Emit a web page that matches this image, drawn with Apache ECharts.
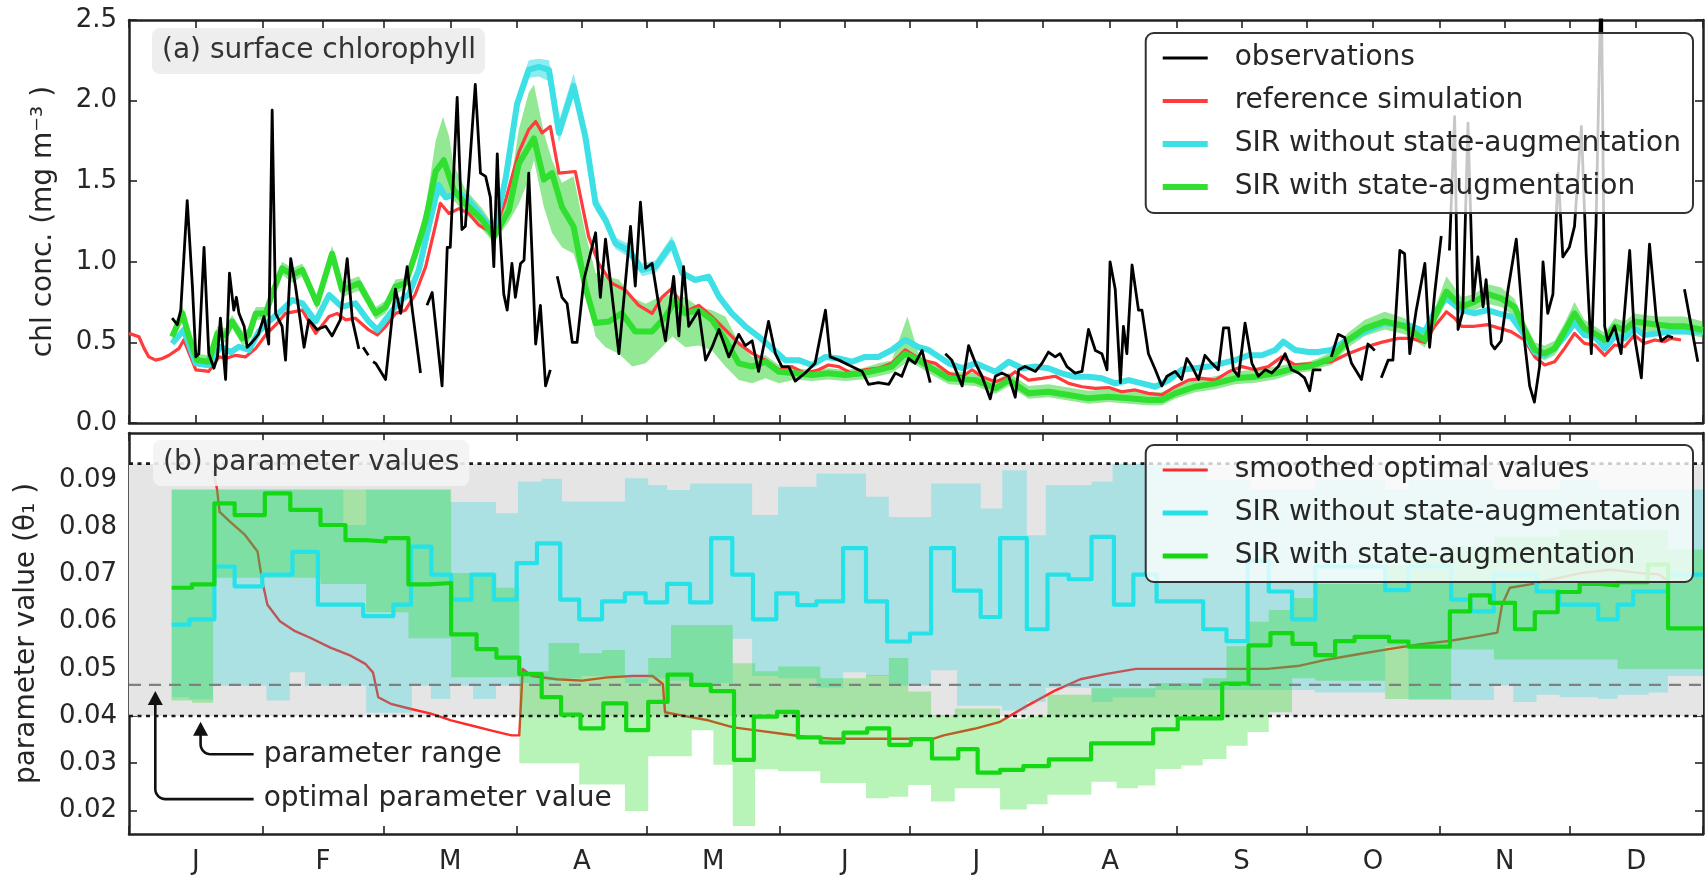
<!DOCTYPE html>
<html>
<head>
<meta charset="utf-8">
<script src="https://cdn.jsdelivr.net/npm/echarts@6/dist/echarts.min.js"></script>
<style>
html,body{margin:0;padding:0;background:#fff;}
#chart{width:1708px;height:875px;}
</style>
</head>
<body>
<div id="chart"></div>
<script>
// ---------- axes / ticks ----------
const monthLetters = ['J','F','M','A','M','J','J','A','S','O','N','D'];
const monthStarts = [0,31,59,90,120,151,181,212,243,273,304,334,365];
const monthMids = [15.5,45,74.5,105,135.5,166,196.5,227.5,258,288.5,319,349.5];
const chlTicks = [0,0.5,1.0,1.5,2.0,2.5];
const thetaTicks = [0.02,0.03,0.04,0.05,0.06,0.07,0.08,0.09];
const thetaLimits = [0.015, 0.1];
const paramRange = [0.040, 0.0935];
const optimalValue = 0.0466;

// ---------- (a) surface chlorophyll : [day, mg m-3] ----------
const observations = [
[10,0.65],[11.2,0.61],[12,0.70],[13.5,1.38],[14.7,0.85],[15.5,0.41],[16.2,0.43],[17.4,1.09],[18.5,0.43],[19.7,0.34],[20.5,0.41],[21.2,0.65],[22.4,0.27],[23.3,0.93],[24.3,0.70],[24.9,0.78],[25.5,0.68],[26.7,0.60],[27.4,0.47],[28.5,0.50],[30,0.55],
[31.3,0.66],[32.4,0.49],[33.2,1.94],[34,0.68],[35.5,0.60],[36.3,0.39],[37.5,1.02],[38.6,0.85],[40.6,0.47],[41.7,0.64],[43.6,0.58],[45.6,0.60],[47.1,0.54],[49,0.64],[50.6,1.02],[51.8,0.64],[53.3,0.46],[53.9,null],[54.3,0.47],[55.5,0.42],[56,null],[56.6,0.38],[57.2,0.37],[59.5,0.27],[61,0.65],[61.8,0.83],[63,0.68],[64.5,0.97],[65.7,0.70],[67.6,0.31],[68.3,null],
[69.1,0.73],[70.3,0.81],[72.6,0.23],[73.8,1.09],[74.5,1.09],[76.1,2.02],[77.2,1.20],[78,1.22],[80.3,2.10],[81.5,1.55],[82.7,1.53],[83.8,1.40],[84.6,0.97],[85.4,1.67],[86.1,1.16],[86.9,0.80],[87.7,0.70],[88.8,0.99],[89.6,0.78],[90.8,0.99],[91.6,1.01],[92.7,1.55],[94.3,0.49],[95.4,0.73],[96.6,0.23],[97.7,0.33],[98.5,null],
[99.3,0.91],[100.4,0.78],[101.6,0.74],[102.8,0.50],[103.9,0.50],[105.5,0.89],[108.2,1.18],[109.3,0.78],[110.5,1.14],[113.6,0.43],[116.3,1.22],[117.4,0.85],[118.6,1.37],[119.8,0.96],[121.3,0.99],[122.8,0.74],[124.4,0.51],[126.3,0.91],[127.5,0.54],[128.6,0.97],[129.8,0.60],[132.1,0.70],[133.7,0.39],[135.2,0.47],[136.8,0.58],[139.1,0.41],[141.4,0.55],[142.9,0.48],[144.5,0.51],[146,0.32],[148.3,0.63],[149.9,0.43],[151.4,0.35],[153,0.35],[154.5,0.26],[156.8,0.31],[159.1,0.37],[161.5,0.70],[162.6,0.41],[164.6,0.39],[166.9,0.36],[170,0.32],[171.5,0.24],[173.8,0.25],[176.2,0.24],[177.7,0.31],[179.2,0.29],[180.8,0.40],[182.3,0.37],[183.9,0.45],[185.8,0.25],[187,null],
[189.3,0.43],[190.8,0.39],[193.2,0.23],[194.7,0.48],[196.3,0.37],[197.8,0.29],[199.7,0.15],[200.9,0.29],[202.4,0.31],[204,0.29],[205.5,0.16],[206.3,0.33],[207.8,0.35],[210.2,0.32],[211.7,0.37],[213.2,0.44],[214.8,0.41],[215.9,0.43],[217.5,0.35],[219.4,0.31],[221,0.32],[222.5,0.58],[224.1,0.45],[225.6,0.43],[226.8,0.33],[227.5,1.00],[228.7,0.83],[229.9,0.25],[230.6,0.60],[231.4,0.43],[232.6,0.98],[234.1,0.70],[234.9,0.70],[236.4,0.43],[238,0.33],[239.5,0.23],[240.7,0.29],[242.6,0.32],[244.1,0.27],[245.3,0.40],[246.5,0.35],[248,0.27],[249.5,0.42],[251.1,0.37],[252.6,0.33],[253.8,0.59],[255,0.59],[256.1,0.33],[257.3,0.29],[258.8,0.62],[260.4,0.37],[261.9,0.29],[263.5,0.33],[265,0.31],[266.5,0.35],[268.1,0.43],[269.6,0.33],[271.2,0.31],[272.6,0.28],[273.8,0.20],[274.6,0.33],[276.5,0.33],[277.5,null],
[278.8,0.41],[280.4,0.55],[281.9,0.53],[283.5,0.37],[285.8,0.27],[287.3,0.49],[288.9,0.45],[289.6,null],[290.4,0.28],[292,0.39],[293.1,0.39],[294.7,1.07],[295.8,1.05],[297,0.43],[298.5,0.70],[300.5,0.99],[301.6,0.47],[302.8,0.81],[304.3,1.16],[305.2,null],
[306.2,1.07],[307.4,1.90],[308.2,0.58],[309.3,0.69],[310.5,1.86],[311.7,0.76],[312.8,1.03],[314,0.72],[314.7,0.89],[315.9,0.49],[316.7,0.46],[318.2,0.51],[319.8,0.83],[321.7,1.14],[323.6,0.51],[324.8,0.23],[325.9,0.13],[327.1,0.35],[327.9,1.00],[329,0.68],[330.2,0.80],[331.4,1.55],[332.5,1.03],[334,1.09],[335.2,1.22],[336.8,1.84],[337.9,1.05],[339.1,0.43],[340.2,1.24],[341.4,2.8],[342.2,0.60],[342.9,0.51],[344.5,0.60],[346,0.43],[348,1.07],[349.1,0.54],[350.7,0.28],[352.6,1.11],[354.2,0.64],[355.3,0.51],[356.9,0.54],[358,0.53],[359,null],[360.7,0.83],[363.8,0.38]
];

const referenceSimulation = [
[0,0.556],[2.3,0.535],[3.5,0.463],[4.6,0.41],[6.2,0.39],[7.7,0.40],[9.3,0.42],[11.6,0.463],[12.7,0.515],[14.3,0.41],[15.5,0.33],[18.5,0.32],[20.9,0.41],[22.4,0.40],[24.7,0.42],[27,0.41],[29.4,0.463],[31.7,0.546],[34,0.608],[36.3,0.68],[40.2,0.70],[43.3,0.556],[46.4,0.66],[48.3,0.68],[50.2,0.64],[52.5,0.65],[55.6,0.577],[57.6,0.546],[59.5,0.598],[61.8,0.68],[64.1,0.70],[66.4,0.80],[68.8,0.97],[71,1.218],[72.2,1.363],[74.2,1.30],[76.5,1.33],[78.8,1.30],[81.1,1.228],[84.6,1.176],[87.3,1.38],[90.4,1.68],[92.7,1.82],[94.3,1.87],[95.8,1.80],[97.7,1.84],[99.7,1.55],[103.5,1.56],[106.6,1.156],[108.9,0.99],[112,0.866],[115.1,0.825],[118.2,0.73],[121.3,0.68],[123.6,0.78],[125.9,0.835],[129,0.69],[132.1,0.73],[135.2,0.66],[138.3,0.577],[141.4,0.494],[144.5,0.432],[147.6,0.39],[150.7,0.33],[153.7,0.35],[156.8,0.308],[159.9,0.33],[162.2,0.36],[164.6,0.35],[167.6,0.308],[170.7,0.33],[173.8,0.34],[176.9,0.37],[180,0.453],[182,0.42],[183.9,0.39],[187,0.37],[190.1,0.308],[193.2,0.287],[195.5,0.33],[197.8,0.287],[200.9,0.256],[204,0.287],[205.5,0.318],[208.6,0.266],[211.7,0.277],[214.8,0.29],[217.9,0.246],[221,0.225],[224.1,0.215],[227.2,0.22],[230.2,0.194],[233.3,0.205],[236.4,0.184],[239.5,0.174],[242.6,0.225],[245.7,0.266],[248.8,0.277],[251.9,0.266],[255,0.318],[258.1,0.35],[261.1,0.33],[264.2,0.35],[267.3,0.41],[270.4,0.36],[275,0.37],[278.8,0.38],[282.7,0.43],[286.6,0.47],[290.4,0.50],[294.3,0.525],[297.4,0.525],[300.5,0.50],[302.8,0.60],[305.5,0.69],[307.4,0.65],[309,0.60],[312,0.60],[315.1,0.61],[317.5,0.59],[320.5,0.567],[323.6,0.515],[326,0.41],[328.3,0.36],[330.6,0.38],[332.9,0.463],[335.2,0.556],[337.5,0.494],[339.9,0.484],[342.2,0.42],[344.5,0.484],[346.8,0.473],[349.1,0.546],[351.4,0.494],[353.8,0.515],[356.1,0.505],[357.6,0.525],[359.9,0.515]
];

const sirNoAugChl = [
[10,0.494],[12.7,0.577],[15.5,0.37],[18.5,0.36],[21.2,0.473],[23.6,0.44],[25.5,0.473],[27.8,0.453],[30.1,0.567],[32.4,0.63],[35.5,0.70],[37.9,0.763],[40.2,0.742],[43.3,0.63],[46.4,0.794],[49.4,0.72],[52.5,0.742],[55.6,0.63],[57.6,0.577],[60.3,0.67],[62.6,0.753],[64.9,0.80],[67.2,0.95],[69.5,1.218],[71.8,1.476],[73.4,1.40],[76.5,1.425],[78.8,1.38],[81.9,1.28],[84.6,1.187],[87.3,1.51],[90,1.98],[92.7,2.19],[95,2.21],[97.4,2.19],[99.7,1.80],[103.1,2.09],[105.8,1.78],[108.2,1.36],[110.5,1.26],[112.8,1.115],[115.9,1.07],[119,0.95],[122.1,0.97],[125.9,1.115],[128.3,0.93],[131.3,0.887],[134.4,0.908],[136.8,0.784],[139.8,0.68],[142.9,0.60],[146,0.536],[149.1,0.463],[152.2,0.39],[155.3,0.39],[158.4,0.36],[161.5,0.41],[164.6,0.40],[167.6,0.38],[170.7,0.41],[173.8,0.41],[176.9,0.453],[180,0.515],[183.1,0.47],[185.4,0.453],[190.1,0.37],[193.2,0.34],[196.3,0.37],[200.9,0.318],[204,0.38],[207.1,0.34],[210.2,0.35],[213.2,0.34],[216.3,0.308],[219.4,0.287],[222.5,0.287],[225.6,0.277],[228.7,0.246],[231.8,0.266],[234.9,0.246],[238,0.225],[241.1,0.266],[244.1,0.33],[247.2,0.34],[250.3,0.35],[253.4,0.37],[256.5,0.39],[259.6,0.42],[262.7,0.42],[265.8,0.453],[267.7,0.505],[270.4,0.453],[273.5,0.44],[275.7,0.44],[278.8,0.453],[281.9,0.505],[286.6,0.567],[291.2,0.62],[294.3,0.61],[297.4,0.60],[300.5,0.567],[302.8,0.69],[305.5,0.773],[309,0.70],[312,0.68],[315.1,0.70],[317.5,0.68],[320.5,0.66],[323.6,0.546],[326,0.44],[328.3,0.42],[330.6,0.463],[332.9,0.536],[335.2,0.62],[337.5,0.546],[339.9,0.536],[342.2,0.463],[344.5,0.536],[346.8,0.525],[349.1,0.587],[351.4,0.546],[354.5,0.556],[357.6,0.567],[360.7,0.567],[365,0.567]
];

const sirAugChl = [
[10,0.536],[12.4,0.68],[13.9,0.536],[15.8,0.39],[18.5,0.38],[20.5,0.556],[22.4,0.546],[23.9,0.63],[26.3,0.525],[27.8,0.546],[29.4,0.68],[31.7,0.68],[33.2,0.80],[35.5,0.96],[37.9,0.918],[40.2,0.95],[43.6,0.742],[47.1,1.05],[49.4,0.825],[53.3,0.866],[57.2,0.68],[59.5,0.72],[61.8,0.846],[64.1,0.866],[66.4,1.05],[68.8,1.26],[71.1,1.56],[73,1.63],[75.3,1.445],[78,1.36],[81.9,1.26],[84.6,1.156],[88.1,1.32],[90.4,1.61],[93.9,1.766],[96.2,1.51],[98.1,1.55],[100.4,1.34],[103.1,1.218],[105.8,0.846],[108.2,0.62],[111.3,0.63],[114.3,0.68],[117.4,0.567],[121.3,0.567],[124.4,0.66],[126.7,0.763],[129,0.68],[132.1,0.70],[135.2,0.64],[138.3,0.515],[141.4,0.37],[144.5,0.35],[147.6,0.38],[150.7,0.318],[154.5,0.308],[158.4,0.298],[162.2,0.308],[166.1,0.298],[170,0.308],[173.8,0.33],[176.9,0.35],[180,0.43],[183.1,0.39],[185.4,0.35],[190.1,0.277],[196.3,0.266],[200.9,0.215],[204,0.266],[208.6,0.184],[213.2,0.194],[217.9,0.174],[222.5,0.153],[227.2,0.163],[231.8,0.153],[236.4,0.143],[239.5,0.143],[242.6,0.184],[247.2,0.225],[251.9,0.246],[256.5,0.277],[261.1,0.287],[265.8,0.308],[270.4,0.34],[273.5,0.35],[275.7,0.37],[278.8,0.40],[282.7,0.515],[286.6,0.587],[291.2,0.63],[295.8,0.60],[300.5,0.515],[302.8,0.66],[305.5,0.815],[309,0.72],[312,0.753],[315.1,0.80],[318.2,0.773],[321.3,0.72],[323.6,0.577],[326,0.453],[328.3,0.432],[330.6,0.463],[332.9,0.567],[335.2,0.68],[337.5,0.587],[339.9,0.556],[342.2,0.515],[344.5,0.60],[346.8,0.577],[349.1,0.63],[351.4,0.62],[354.5,0.61],[357.6,0.60],[360.7,0.60],[365,0.577]
];

// ensemble spread, [day, low, high]
const sirNoAugChlBand = [
[87.3,1.47,1.55],[90,1.93,2.04],[92.7,2.14,2.25],[95,2.15,2.26],[97.4,2.12,2.25],[99.7,1.74,1.87],[103.1,2.02,2.17],[105.8,1.72,1.85],[108.2,1.32,1.41],[110.5,1.22,1.30],[112.8,1.08,1.15],[115.9,1.03,1.11],[119,0.91,0.99],[122.1,0.93,1.01],[125.9,1.07,1.16],[128.3,0.89,0.97]
];
const sirAugChlBand = [
[10,0.50,0.57],[12.4,0.63,0.73],[13.9,0.50,0.58],[15.8,0.35,0.43],[18.5,0.34,0.42],[20.5,0.51,0.60],[22.4,0.50,0.59],[23.9,0.59,0.67],[26.3,0.48,0.57],[27.8,0.50,0.59],[29.4,0.64,0.72],[31.7,0.64,0.72],[33.2,0.76,0.84],[35.5,0.92,1.00],[37.9,0.87,0.96],[40.2,0.91,0.99],[43.6,0.70,0.78],[47.1,1.00,1.10],[49.4,0.78,0.87],[53.3,0.82,0.91],[57.2,0.64,0.72],[59.5,0.68,0.76],[61.8,0.80,0.89],
[64.1,0.83,0.90],[66.4,1.00,1.10],[68.8,1.18,1.34],[71.1,1.42,1.75],[72.8,1.40,1.90],[74.2,1.40,1.78],[75.3,1.38,1.60],[78,1.30,1.45],[81.9,1.20,1.33],[84.6,1.12,1.22],[88.1,1.25,1.42],[90.4,1.36,1.82],[92.7,1.51,2.05],[93.9,1.63,2.10],[96.2,1.34,1.80],[98.1,1.18,1.63],[100.4,1.09,1.49],[103.1,1.05,1.53],[105.8,0.825,1.18],[108.2,0.536,0.93],[110.5,0.47,0.91],[113.6,0.43,0.89],[116.7,0.35,0.78],[119.8,0.37,0.74],[122.8,0.45,0.78],[126,0.536,0.80],[129,0.47,0.78],[132.1,0.48,0.72],[135.2,0.45,0.70],[138.3,0.35,0.66],[141.4,0.267,0.50],[144.5,0.246,0.41],[147.6,0.277,0.42],[150.7,0.246,0.36],[154.5,0.27,0.34],[158.4,0.26,0.33],[162.2,0.27,0.34],[166.1,0.26,0.33],[170,0.27,0.34],[173.8,0.29,0.37],[176.9,0.31,0.39],[180.5,0.38,0.66],[183.1,0.35,0.43],
[185.4,0.31,0.38],[190.1,0.24,0.32],[196.3,0.23,0.31],[200.9,0.18,0.26],[204,0.23,0.31],[208.6,0.15,0.23],[213.2,0.16,0.24],[217.9,0.14,0.22],[222.5,0.12,0.20],[227.2,0.13,0.21],[231.8,0.12,0.20],[236.4,0.11,0.19],[239.5,0.11,0.19],[242.6,0.15,0.23],[247.2,0.19,0.27],[251.9,0.21,0.29],[256.5,0.24,0.32],[261.1,0.25,0.33],[265.8,0.27,0.35],
[270.4,0.31,0.37],[273.5,0.32,0.38],[275.7,0.34,0.40],[278.8,0.36,0.44],[282.7,0.47,0.56],[286.6,0.54,0.64],[291.2,0.58,0.69],[295.8,0.55,0.65],[300.5,0.47,0.56],[302.8,0.61,0.71],[305.5,0.75,0.91],[309,0.67,0.78],[312,0.70,0.80],[315.1,0.74,0.86],[318.2,0.72,0.84],[321.3,0.66,0.77],[323.6,0.53,0.63],[326,0.41,0.50],[328.3,0.39,0.48],[330.6,0.42,0.51],[332.9,0.52,0.62],[335.2,0.63,0.75],[337.5,0.54,0.64],[339.9,0.51,0.60],[342.2,0.47,0.56],[344.5,0.55,0.65],[346.8,0.53,0.63],[349.1,0.58,0.68],[351.4,0.57,0.67],[354.5,0.56,0.66],[357.6,0.55,0.66],[360.7,0.55,0.66],[365,0.53,0.63]
];

// ---------- (b) parameter values ----------
const smoothedOptimal = [
[19.5,0.092],[20.4,0.0882],[21,0.0833],[23.4,0.0812],[26.9,0.0784],[29.8,0.0749],[30.9,0.0686],[32.1,0.0636],[35,0.0601],[38.5,0.058],[42,0.0566],[46.7,0.0545],[51.4,0.0528],[54.9,0.051],[56.6,0.0492],[57.8,0.044],[60.7,0.0426],[65.4,0.0415],[70,0.0405],[74.7,0.0391],[79.4,0.038],[84.1,0.0369],[88.7,0.0359],[90.5,0.0359],[91.3,0.050],[93.4,0.0485],[99.2,0.0478],[105.1,0.0475],[110.9,0.0482],[116.8,0.0485],[121.4,0.0485],[123.8,0.0468],[124.3,0.0408],[128.4,0.0401],[134.3,0.0391],[140.1,0.0376],[145.9,0.0369],[151.8,0.0362],[157.6,0.0355],[163.5,0.0352],[175.1,0.0352],[186.6,0.0352],[188.9,0.0359],[196,0.0373],[201.8,0.0387],[207.7,0.0419],[214.7,0.0454],[220.6,0.0478],[226.4,0.0489],[233.5,0.050],[264,0.050],[271,0.0506],[278,0.052],[285,0.0531],[292.1,0.0542],[299.1,0.0552],[306.1,0.0559],[313.2,0.057],[317.3,0.0577],[318.4,0.0636],[320.2,0.0672],[324.9,0.0679],[329.6,0.0689],[336.6,0.0703],[343.6,0.071],[350.7,0.0703],[354.8,0.070],[356.5,0.0689]
];
// step values: [start day, value]
const sirNoAugTheta = [
[9.9,0.0594],[14,0.0605],[19.8,0.0717],[24.5,0.0675],[30.9,0.070],[37.9,0.0748],[43.8,0.0636],[54.3,0.0612],[61.3,0.0636],[65.4,0.0759],[70.1,0.070],[74.7,0.0647],[79.4,0.070],[84.6,0.0647],[89.9,0.0724],[94.6,0.0766],[100,0.0647],[104.4,0.0605],[109.7,0.0643],[115,0.066],[119.8,0.0641],[124.8,0.068],[130.1,0.0641],[135,0.0777],[139.9,0.070],[144.7,0.0605],[150.1,0.066],[155,0.0635],[159.4,0.0643],[165.6,0.0756],[170.9,0.0643],[175.8,0.0558],[181.1,0.0575],[186,0.0756],[191.3,0.0666],[197.5,0.061],[202,0.0777],[208.2,0.0584],[213,0.070],[217.9,0.069],[223.2,0.078],[228.4,0.0636],[232.9,0.070],[238.3,0.0643],[249.1,0.0584],[254.5,0.0559],[259.4,0.073],[264.3,0.0664],[269.7,0.0605],[275.1,0.0717],[291.3,0.0667],[296.7,0.0717],[306.6,0.0647],[311.1,0.0622],[316.5,0.070],[326.4,0.0664],[331.7,0.0636],[340.7,0.0605],[345.2,0.0636],[348.8,0.0664],[356.9,0.070],[365,0.070]
];
const sirAugTheta = [
[9.9,0.0672],[14.6,0.0679],[19.8,0.0851],[24.5,0.0826],[31.5,0.0872],[37.4,0.0837],[44.4,0.0805],[50.2,0.0773],[54.9,0.077],[59.5,0.0777],[64.8,0.0679],[69.5,0.0682],[74.7,0.0573],[80.6,0.0542],[85.2,0.0524],[90.5,0.0489],[95.7,0.0440],[100.2,0.0403],[104.7,0.0374],[110,0.0427],[115.3,0.037],[120.4,0.043],[124.9,0.0488],[130.4,0.0466],[134.9,0.0453],[140.3,0.0307],[144.9,0.0399],[150.3,0.0409],[155.1,0.0355],[160.4,0.0344],[165.7,0.0365],[171.2,0.0374],[176.3,0.0339],[181.3,0.0351],[186.2,0.031],[192.3,0.033],[196.8,0.028],[202,0.0286],[207.4,0.0294],[213.3,0.0308],[223.1,0.0342],[237.5,0.0372],[243.2,0.0395],[253.5,0.0469],[259.6,0.055],[264.7,0.0576],[269.8,0.0553],[275.1,0.0529],[279.7,0.0559],[284.2,0.0568],[292.2,0.0558],[296.7,0.0547],[306.3,0.0622],[311,0.0656],[315.6,0.0640],[321.4,0.0584],[326,0.062],[331.3,0.0663],[336.4,0.0680],[341,0.0677],[345.2,0.0684],[352.2,0.0721],[356.9,0.0586],[365,0.0586]
];
// step spreads: [start day, low, high]
const sirNoAugThetaBand = [
[9.9,0.0440,0.0880],[14,0.0435,0.0880],[19.5,0.0464,0.0880],[31.9,0.0433,0.0880],[37.3,0.0493,0.0880],[40.8,0.0464,0.0880],[49.7,0.0464,0.0805],[55,0.0407,0.0880],[65.6,0.0464,0.0880],[70,0.0436,0.0880],[74.5,0.0464,0.0854],[79.8,0.0436,0.0854],[85.1,0.0464,0.0830],[90.2,0.0470,0.0897],[95.7,0.0475,0.0903],[100.4,0.0480,0.0855],[105,0.0485,0.0855],[115,0.0470,0.0904],[120.4,0.0480,0.0890],[124.8,0.0475,0.0879],[130.1,0.0470,0.0893],[140,0.0564,0.0893],[144.5,0.0485,0.0826],[150.5,0.0480,0.0886],[159.4,0.0460,0.0914],[165.6,0.0493,0.0914],[170.9,0.0485,0.0865],[176.2,0.0465,0.0822],[186,0.0497,0.0893],[192,0.0422,0.0893],[197.5,0.0422,0.0840],[202.5,0.0412,0.0921],[208.2,0.0430,0.0783],[212.6,0.0460,0.0890],[223.2,0.0430,0.0897],[228.1,0.0440,0.0935],[238,0.0455,0.0935],[250,0.0455,0.0900],[260,0.0455,0.0880],[275,0.0450,0.0900],[291.3,0.0548,0.0880],[296.7,0.0434,0.0900],[316.5,0.0465,0.0880],[321,0.0430,0.0880],[326.4,0.0445,0.0880],[331.7,0.0440,0.0900],[340.7,0.0436,0.0880],[345.2,0.0445,0.0880],[352.4,0.0450,0.0880],[356.9,0.0485,0.0880],[365,0.0485,0.0880]
];
const sirAugThetaBand = [
[9.9,0.0433,0.0880],[14.6,0.0428,0.0880],[19.5,0.0693,0.0880],[44.4,0.0680,0.0880],[55,0.0620,0.0880],[64.8,0.0565,0.0880],[74.7,0.0482,0.0703],[85.2,0.0482,0.0672],[90.5,0.0300,0.0495],[97.3,0.0300,0.0555],[104.4,0.0255,0.0533],[109.7,0.0255,0.0540],[115,0.0199,0.0480],[120.4,0.0315,0.0523],[125.7,0.0315,0.0593],[130.5,0.0370,0.0593],[135.5,0.0297,0.0593],[140,0.0167,0.0512],[145.2,0.0287,0.0495],[150.5,0.0283,0.0505],[160.3,0.0258,0.0480],[170.9,0.0226,0.0487],[176.2,0.0229,0.0523],[180.7,0.0254,0.0452],[186,0.0219,0.0402],[191.5,0.0247,0.0416],[202,0.0202,0.0395],[208.2,0.0213,0.0400],[213,0.0233,0.0445],[223.2,0.0261,0.0459],[229,0.0247,0.0459],[234,0.0253,0.0459],[238,0.0288,0.0470],[244,0.0295,0.0470],[249,0.0309,0.0480],[254.5,0.0337,0.0548],[259.4,0.0366,0.0600],[264.3,0.0408,0.0625],[269.7,0.0480,0.0650],[275.1,0.0475,0.0680],[291.3,0.0436,0.0720],[296.7,0.0436,0.0740],[306.6,0.0541,0.0760],[316.5,0.0520,0.0780],[331.7,0.0520,0.0795],[345.2,0.0500,0.0795],[356.9,0.0500,0.0753],[365,0.0500,0.0753]
];

// ---------- helpers ----------
const FONT = '"DejaVu Sans", "Liberation Sans", sans-serif';
const TXT = '#262626';
const AXC = '#222';

function bandRender(step, fill) {
  return function (params, api) {
    if (params.dataIndexInside !== 0) return null;
    const n = params.dataInsideLength;
    const up = [], lo = [];
    for (let i = 0; i < n; i++) {
      const x = api.value(0, i);
      if (step && i > 0) {
        up.push(api.coord([x, api.value(2, i - 1)]));
        lo.push(api.coord([x, api.value(1, i - 1)]));
      }
      up.push(api.coord([x, api.value(2, i)]));
      lo.push(api.coord([x, api.value(1, i)]));
    }
    return { type: 'polygon', shape: { points: up.concat(lo.reverse()) }, style: { fill: fill } };
  };
}
function band(name, data, axis, step, fill, z) {
  return { name: name, type: 'custom', xAxisIndex: axis, yAxisIndex: axis, z: z, clip: true,
    silent: true, renderItem: bandRender(step, fill), encode: { x: 0, y: [1, 2] }, data: data };
}
function line(name, data, axis, color, width, z, extra) {
  return Object.assign({ name: name, type: 'line', xAxisIndex: axis, yAxisIndex: axis, z: z,
    symbol: 'none', showSymbol: false, connectNulls: false, silent: true, clip: true,
    lineStyle: { color: color, width: width, join: 'round' }, itemStyle: { color: color },
    data: data }, extra || {});
}
function findMid(v) {
  for (let i = 0; i < monthMids.length; i++) if (Math.abs(monthMids[i] - v) < 0.01) return monthLetters[i];
  return '';
}
// legend handle: a horizontal bar of the given thickness inside a 45x14 box
function lineIcon(w) {
  const a = (7 - w / 2).toFixed(2), b = (7 + w / 2).toFixed(2);
  return 'path://M0,0L0.01,0L0.01,0.01Z M0,' + a + 'L45,' + a + 'L45,' + b + 'L0,' + b + 'Z M44.99,14L45,14L45,13.99Z';
}
function legendItem(name, color, w) {
  return { name: name, icon: lineIcon(w), itemStyle: { color: color, borderWidth: 0 } };
}
const tickBase = { inside: true, length: 8, lineStyle: { color: AXC, width: 1.6 } };
const axisLineBase = { show: true, onZero: false, lineStyle: { color: AXC, width: 2.5 } };
function xAx(grid, pos, ticks, labelVals) {
  const ax = { type: 'value', gridIndex: grid, position: pos, min: 0, max: 365,
    axisLine: axisLineBase, splitLine: { show: false },
    axisTick: Object.assign({ customValues: ticks }, tickBase),
    axisLabel: { show: false } };
  if (labelVals) {
    ax.axisLabel = { show: true, customValues: labelVals, formatter: findMid, margin: 15,
      fontSize: 26, fontFamily: FONT, color: TXT };
  }
  return ax;
}
const topTicks = monthStarts.concat(monthMids).sort((a, b) => a - b);

const rangeBand = [[0, paramRange[0], paramRange[1]], [365, paramRange[0], paramRange[1]]];
const rangeLow = [[0, paramRange[0]], [365, paramRange[0]]];
const rangeHigh = [[0, paramRange[1]], [365, paramRange[1]]];
const optimalLine = [[0, optimalValue], [365, optimalValue]];

const chart = echarts.init(document.getElementById('chart'), null, { renderer: 'canvas' });

const legendBase = {
  z: 20, orient: 'vertical', right: 15, padding: [10, 12, 11, 17],
  itemWidth: 45, itemHeight: 14, itemGap: 13, selectedMode: false,
  backgroundColor: 'rgba(255,255,255,0.78)', borderColor: '#333', borderWidth: 2, borderRadius: 8,
  textStyle: { fontSize: 28, fontFamily: FONT, color: TXT, lineHeight: 30, padding: [0, 0, 0, 22] }
};

const option = {
  animation: false,
  backgroundColor: '#ffffff',
  textStyle: { fontFamily: FONT },
  grid: [
    { left: 129, right: 5, top: 20, height: 403 },
    { left: 129, right: 5, top: 433, height: 402 }
  ],
  xAxis: [
    xAx(0, 'bottom', topTicks, null),
    xAx(0, 'top', topTicks, null),
    xAx(1, 'bottom', monthStarts, monthMids),
    xAx(1, 'top', monthStarts, null)
  ],
  yAxis: [
    { type: 'value', gridIndex: 0, position: 'left', min: 0, max: 2.5, interval: 0.5,
      axisLine: axisLineBase, splitLine: { show: false }, axisTick: tickBase,
      axisLabel: { formatter: v => v.toFixed(1), fontSize: 26, fontFamily: FONT, color: TXT, margin: 12 },
      name: 'chl conc. (mg m\u207B\u00B3 )', nameLocation: 'middle', nameGap: 71,
      nameTextStyle: { fontSize: 28, fontFamily: FONT, color: TXT } },
    { type: 'value', gridIndex: 0, position: 'right', min: 0, max: 2.5, interval: 0.5,
      axisLine: axisLineBase, splitLine: { show: false }, axisTick: tickBase, axisLabel: { show: false } },
    { type: 'value', gridIndex: 1, position: 'left', min: thetaLimits[0], max: thetaLimits[1],
      axisLine: axisLineBase, splitLine: { show: false },
      axisTick: Object.assign({ customValues: thetaTicks }, tickBase),
      axisLabel: { customValues: thetaTicks, formatter: v => v.toFixed(2), fontSize: 26, fontFamily: FONT, color: TXT, margin: 12 },
      name: 'parameter value (\u03B8\u2081 )', nameLocation: 'middle', nameGap: 88,
      nameTextStyle: { fontSize: 28, fontFamily: FONT, color: TXT } },
    { type: 'value', gridIndex: 1, position: 'right', min: thetaLimits[0], max: thetaLimits[1],
      axisLine: axisLineBase, splitLine: { show: false },
      axisTick: Object.assign({ customValues: thetaTicks }, tickBase), axisLabel: { show: false } }
  ],
  legend: [
    Object.assign({}, legendBase, { top: 33, data: [
      legendItem('observations', '#000000', 3),
      legendItem('reference simulation', '#ff3b3b', 4),
      legendItem('SIR without state-augmentation', '#3ce0e5', 6),
      legendItem('SIR with state-augmentation', '#30df30', 6)
    ] }),
    Object.assign({}, legendBase, { top: 445, data: [
      legendItem('smoothed optimal values', '#ff2a2a', 3),
      legendItem('SIR without state-augmentation', '#25e2e8', 5),
      legendItem('SIR with state-augmentation', '#14d814', 5)
    ] })
  ],
  series: [
    // ---- top panel ----
    band('bandNoAugChl', sirNoAugChlBand, 0, false, 'rgba(30,215,225,0.5)', 1),
    band('bandAugChl', sirAugChlBand, 0, false, 'rgba(40,210,40,0.5)', 2),
    line('reference simulation', referenceSimulation, 0, '#ff3b3b', 3.2, 3),
    line('SIR without state-augmentation', sirNoAugChl, 0, '#3ce0e5', 6, 4),
    line('SIR with state-augmentation', sirAugChl, 0, '#30df30', 6, 5),
    line('observations', observations, 0, '#000000', 2.8, 6),
    // ---- bottom panel ----
    band('parameterRange', rangeBand, 2, false, '#e5e5e5', 1),
    line('smoothed optimal values', smoothedOptimal, 2, '#ff2a2a', 2.4, 2),
    band('bandNoAugTheta', sirNoAugThetaBand, 2, true, 'rgba(0,215,222,0.25)', 3),
    band('bandAugTheta', sirAugThetaBand, 2, true, 'rgba(20,220,20,0.30)', 4),
    line('rangeLow', rangeLow, 2, '#1a1a1a', 2.6, 5, { lineStyle: { color: '#1a1a1a', width: 2.6, type: [4, 4.5], cap: 'butt' } }),
    line('rangeHigh', rangeHigh, 2, '#1a1a1a', 2.6, 5, { lineStyle: { color: '#1a1a1a', width: 2.6, type: [4, 4.5], cap: 'butt' } }),
    line('optimal', optimalLine, 2, '#808080', 2.2, 5, { lineStyle: { color: '#808080', width: 2.2, type: [12, 8], cap: 'butt' } }),
    line('SIR without state-augmentation', sirNoAugTheta, 2, '#25e2e8', 4.2, 6, { step: 'end' }),
    line('SIR with state-augmentation', sirAugTheta, 2, '#14d814', 4.2, 7, { step: 'end' })
  ]
};
chart.setOption(option);

// ---------- panel labels and annotations ----------
const annotations = [
  { text: 'parameter range', tip: [16.6, 0.0388], corner: [16.6, 0.0319], end: [28.9, 0.0319] },
  { text: 'optimal parameter value', tip: [6.1, 0.0453], corner: [6.1, 0.0224], end: [28.9, 0.0224] }
];
const graphics = [
  { type: 'text', left: 152, top: 28, z: 30, silent: true,
    style: { text: '(a) surface chlorophyll', fontSize: 28, fontFamily: FONT, fill: '#333',
      lineHeight: 32, backgroundColor: '#eeeeee', padding: [7, 9, 7, 10], borderRadius: 8 } },
  { type: 'text', left: 153, top: 440, z: 30, silent: true,
    style: { text: '(b) parameter values', fontSize: 28, fontFamily: FONT, fill: '#333',
      lineHeight: 32, backgroundColor: 'rgba(243,243,243,0.9)', padding: [7, 10, 7, 10], borderRadius: 8 } }
];
annotations.forEach(a => {
  const px = d => chart.convertToPixel({ xAxisIndex: 2, yAxisIndex: 2 }, d);
  const t = px(a.tip), c = px(a.corner), e = px(a.end);
  const r = 10, head = 14, hw = 7.5;
  const pts = [[t[0], t[1] + head - 1]];
  const ox = c[0] + r, oy = c[1] - r;
  for (let k = 0; k <= 8; k++) {
    const th = Math.PI - (Math.PI / 2) * (k / 8);
    pts.push([ox + r * Math.cos(th), oy + r * Math.sin(th)]);
  }
  pts.push([e[0], e[1]]);
  graphics.push({ type: 'polyline', z: 30, silent: true, shape: { points: pts },
    style: { stroke: '#111', lineWidth: 2.6, fill: null } });
  graphics.push({ type: 'polygon', z: 30, silent: true,
    shape: { points: [[t[0], t[1]], [t[0] - hw, t[1] + head], [t[0] + hw, t[1] + head]] },
    style: { fill: '#111' } });
  graphics.push({ type: 'text', z: 30, silent: true, x: e[0] + 10, y: e[1],
    style: { text: a.text, fontSize: 28, fontFamily: FONT, fill: TXT, verticalAlign: 'middle', align: 'left' } });
});
chart.setOption({ graphic: graphics });
</script>
</body>
</html>
